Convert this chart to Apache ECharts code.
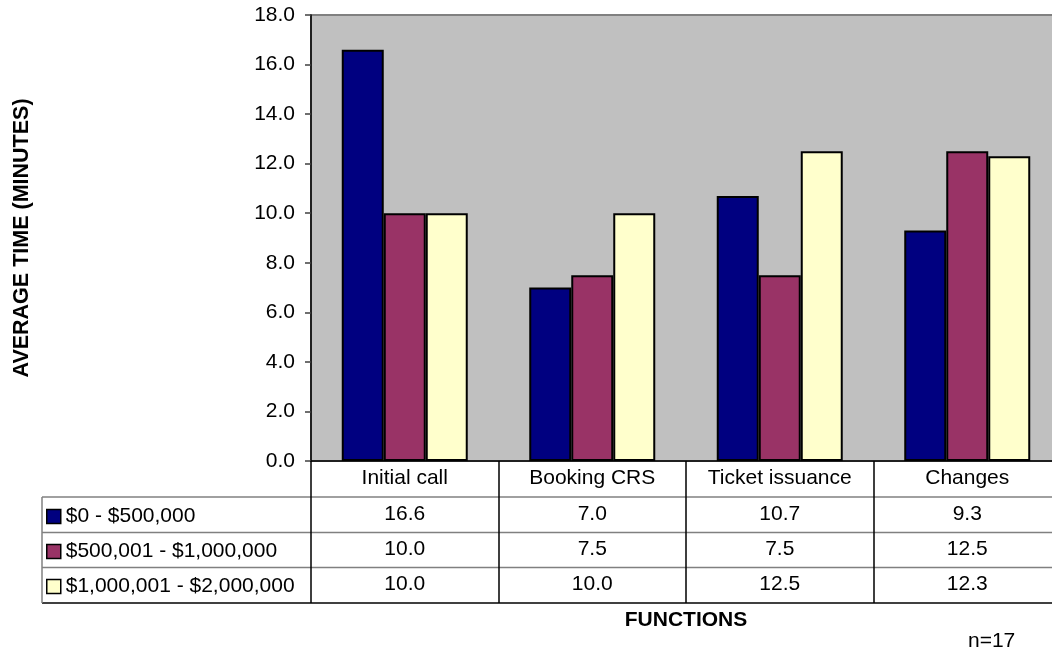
<!DOCTYPE html>
<html>
<head>
<meta charset="utf-8">
<title>Average time by function</title>
<script src="https://cdn.jsdelivr.net/npm/echarts@6/dist/echarts.min.js"></script>
<style>
  html, body { margin: 0; padding: 0; background: #ffffff; overflow: hidden; }
  #chart { width: 1070px; height: 651px; }
</style>
</head>
<body>
<div id="chart"></div>
<script>
// Functions measured (x categories)
const functions = ['Initial call', 'Booking CRS', 'Ticket issuance', 'Changes'];

// Revenue bands (series names)
const bandNames = ['$0 - $500,000', '$500,001 - $1,000,000', '$1,000,001 - $2,000,000'];

// Average time in minutes per band
const band1 = [16.6, 7.0, 10.7, 9.3];
const band2 = [10.0, 7.5, 7.5, 12.5];
const band3 = [10.0, 10.0, 12.5, 12.3];

// Y axis range
const yMin = 0;
const yMax = 18;
const yStep = 2;

const sampleNote = 'n=17';

const bandValues = [band1, band2, band3];
const bandColors = ['#000080', '#993366', '#FFFFCC'];

const FONT = 'Arial, "Liberation Sans", Helvetica, sans-serif';
const FS = 21;

const chart = echarts.init(document.getElementById('chart'));

// Data-table rows are drawn as extra category axes stacked under the main axis
const rowOffsets = [36, 71, 106];
const tableAxes = bandValues.map((vals, k) => ({
  type: 'category',
  gridIndex: 0,
  position: 'bottom',
  offset: rowOffsets[k],
  data: functions,
  axisLine: { show: false },
  axisTick: { show: false },
  splitLine: { show: false },
  axisLabel: {
    margin: 7,
    fontSize: FS,
    color: '#000',
    fontFamily: FONT,
    formatter: (v, i) => vals[i].toFixed(1)
  }
}));

// Table rules (horizontal) and legend box edge
const tableLeft = 42;
const rowLines = [
  { y: 497, color: '#808080' },
  { y: 532.5, color: '#808080' },
  { y: 567.5, color: '#808080' },
  { y: 603, color: '#000000' }
];
const graphics = rowLines.map(r => ({
  type: 'line',
  shape: { x1: tableLeft, y1: r.y, x2: 1070, y2: r.y },
  style: { stroke: r.color, lineWidth: 1.5 },
  silent: true
}));
graphics.push({
  type: 'line',
  shape: { x1: tableLeft, y1: 497, x2: tableLeft, y2: 603 },
  style: { stroke: '#808080', lineWidth: 1.5 },
  silent: true
});
graphics.push({
  type: 'text',
  left: 968,
  top: 631,
  style: { text: sampleNote, fontSize: FS, fill: '#000', fontFamily: FONT },
  silent: true
});

const option = {
  animation: false,
  backgroundColor: '#ffffff',
  textStyle: { fontFamily: FONT },
  grid: {
    left: 311,
    top: 15,
    right: 9,
    height: 446,
    show: true,
    backgroundColor: '#C0C0C0',
    borderColor: '#808080',
    borderWidth: 2,
    containLabel: false
  },
  legend: {
    orient: 'vertical',
    left: 46,
    top: 506,
    padding: 0,
    itemGap: 14,
    itemWidth: 14,
    itemHeight: 14,
    icon: 'rect',
    selectedMode: false,
    itemStyle: { borderColor: '#000', borderWidth: 1.5 },
    textStyle: { fontSize: FS, color: '#000', fontFamily: FONT, lineHeight: 21 },
    data: bandNames
  },
  xAxis: [
    {
      type: 'category',
      data: functions,
      name: 'FUNCTIONS',
      nameLocation: 'middle',
      nameGap: 149,
      nameTextStyle: { fontSize: FS, fontWeight: 'bold', color: '#000', fontFamily: FONT },
      axisLine: { show: true, lineStyle: { color: '#000', width: 1.5 } },
      axisTick: { show: true, alignWithLabel: false, length: 142, lineStyle: { color: '#000', width: 1.5 } },
      axisLabel: { margin: 7, fontSize: FS, color: '#000', fontFamily: FONT, interval: 0 },
      splitLine: { show: false }
    },
    ...tableAxes
  ],
  yAxis: {
    type: 'value',
    min: yMin,
    max: yMax,
    interval: yStep,
    name: 'AVERAGE TIME (MINUTES)',
    nameLocation: 'middle',
    nameGap: 278,
    nameRotate: 90,
    nameTextStyle: { fontSize: 21.5, fontWeight: 'bold', color: '#000', fontFamily: FONT },
    axisLine: { show: true, lineStyle: { color: '#000', width: 1.5 } },
    axisTick: { show: true, inside: false, length: 6, lineStyle: { color: '#404040', width: 1.5 } },
    axisLabel: {
      margin: 16,
      fontSize: FS,
      color: '#000',
      fontFamily: FONT,
      formatter: v => v.toFixed(1)
    },
    splitLine: { show: false }
  },
  series: bandValues.map((vals, k) => ({
    name: bandNames[k],
    type: 'bar',
    data: vals,
    barWidth: 42,
    barGap: '0%',
    itemStyle: { color: bandColors[k], borderColor: '#000', borderWidth: 2 }
  })),
  graphic: graphics
};

chart.setOption(option);
</script>
</body>
</html>
